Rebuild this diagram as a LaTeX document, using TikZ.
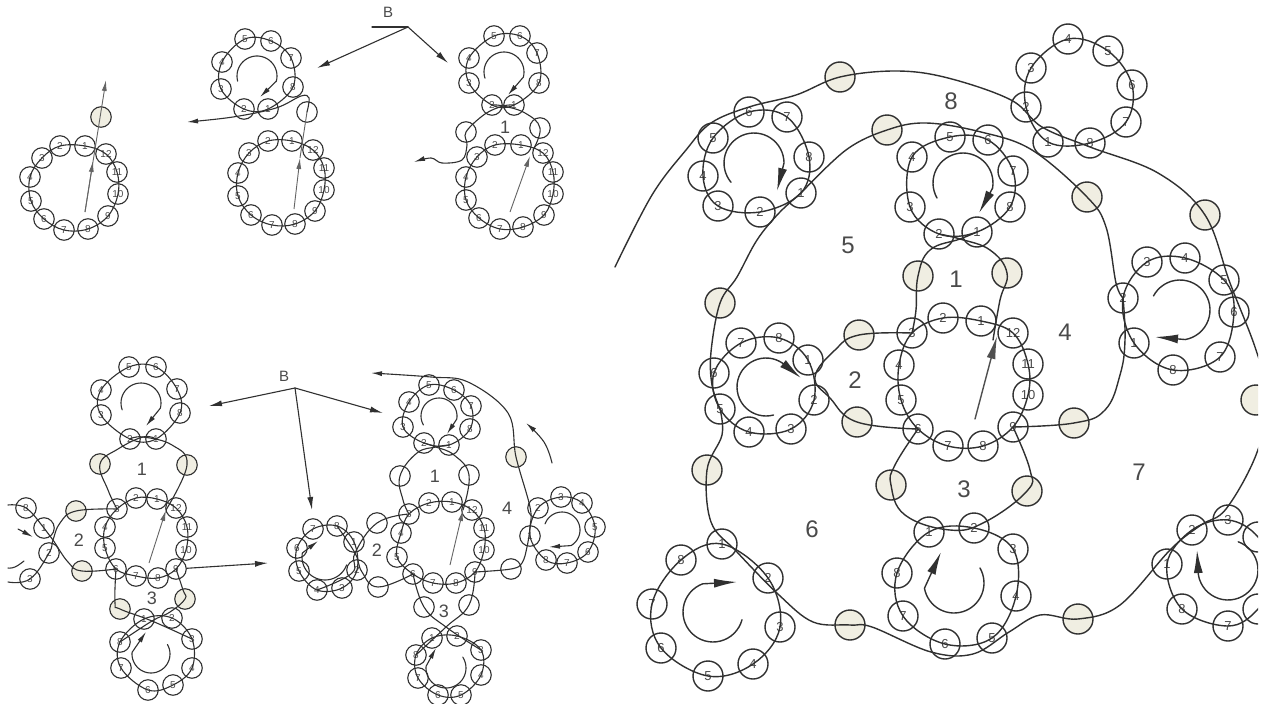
\documentclass[tikz,border=0pt]{standalone}
\usepackage{fontspec}
\setmainfont{Liberation Sans}
\usetikzlibrary{arrows.meta}
\definecolor{ink}{HTML}{303030}
\definecolor{txt}{HTML}{4A4A4A}
\definecolor{cream}{HTML}{F0EEE2}
\tikzset{
 sb/.style={circle,draw=ink,line width=1.1pt,minimum size=20.5pt,inner sep=0pt,text=txt,font=\fontsize{10}{10}\selectfont},
 sf/.style={sb,fill=cream},
 sw/.style={sb},
 bb/.style={circle,draw=ink,line width=1.4pt,minimum size=30pt,inner sep=0pt,text=txt,font=\fontsize{13}{13}\selectfont},
 bf/.style={bb,fill=cream},
 sthr/.style={draw=ink,line width=1.1pt,line cap=round},
 bthr/.style={draw=ink,line width=1.4pt,line cap=round},
 sgray/.style={draw=ink!75,line width=.9pt},
 sah/.style={-{Latex[length=11pt,width=5pt]}},
 bah/.style={-{Latex[length=23pt,width=9pt]}},
 mah/.style={-{Latex[length=13pt,width=6pt]}},
 lbl/.style={text=txt,font=\fontsize{18}{18}\selectfont,inner sep=0pt},
 blbl/.style={text=txt,font=\fontsize{24}{24}\selectfont,inner sep=0pt},
 blet/.style={text=txt,font=\fontsize{15}{15}\selectfont,inner sep=0pt},
}
\newcommand\beads[3]{\foreach \n/\x/\y in {#3} {\node[#1] (#2\n) at (\x,\y) {\n};}}
\newcommand\ringE[1]{\draw[#1] plot[smooth cycle,tension=.62] coordinates}
% style, cx, cy, r, from angle, to angle, tip (angles grow clockwise on the page)
\newcommand\spir[7]{\draw[#1] plot[domain=#5:#6,samples=32,smooth,variable=\t] ({#2+#4*cos(\t)},{#3+#4*sin(\t)}) -- (#7);}
\begin{document}
\begin{tikzpicture}[x=1pt,y=-1pt]
\useasboundingbox (0,0) rectangle (1272,704);
\fill[white] (0,0) rectangle (1272,704);

% ---------- Figure A
\beads{sb}{a}{1/85/146,2/60/146,3/42/158,4/30/177,5/31/201,6/44/219,7/64/230,8/88/229,9/108/216,10/118/194,11/117/172,12/106/154}
\node[sf] (a0) at (101,117) {};
\coordinate (a-s) at (85,212); \coordinate (a-e) at (106,80); \coordinate (a-m) at (93,161);
\ringE{sthr}{(a1)(a2)(a3)(a4)(a5)(a6)(a7)(a8)(a9)(a10)(a11)(a12)};
\draw[sgray,sah] (a-s) -- (a-e);
\draw[sgray,sah] (a-s) -- (a-m);

% ---------- Figure B
\beads{sb}{b}{1/292/141,2/268/141,3/249/153,4/238/173,5/238/196,6/251/215,7/272/225,8/295/224,9/315/211,10/324/190,11/324/168,12/313/150}
\beads{sb}{t}{5/245/39,6/271/41,7/291/58,8/293/87,3/221/89,4/222/62,2/244/109,1/268/109}
\node[sb] (b0) at (307,112) {};
\coordinate (b-s) at (294,209); \coordinate (b-m) at (300,158); \coordinate (b-e) at (187,122);
\ringE{sthr}{(b1)(b2)(b3)(b4)(b5)(b6)(b7)(b8)(b9)(b10)(b11)(b12)};
\ringE{sthr}{(t1)(t2)(t3)(t4)(t5)(t6)(t7)(t8)};
\draw[sgray,sah] (b-s) -- (b-m);
\draw[sgray] (b-m) -- (b0.center);
\draw[sthr,sah] plot[smooth,tension=.6] coordinates {(b0.center)(309,98)(301,96)(276,108)(233,117)(b-e)};
\spir{sthr,sah}{257}{76}{20}{165}{375}{260,97}
% B label top
\node[blet] (bl1) at (388,12) {B};
\coordinate (bj) at (408,27); \coordinate (bj-l) at (372,27);
\coordinate (bj-a) at (317,68); \coordinate (bj-b) at (448,63);
\draw[sthr] (bj-l) -- (bj);
\draw[sthr,mah] (bj) -- (bj-a);
\draw[sthr,mah] (bj) -- (bj-b);

% ---------- Figure C
\beads{sb}{c}{1/521/145,2/495/145,3/477/157,4/466/177,5/466/200,6/479/218,7/500/229,8/523/227,9/544/215,10/553/194,11/553/172,12/543/153}
\beads{sb}{u}{5/494/36,6/520/36,7/537/53,8/539/83,3/469/83,4/469/58,2/492/105,1/514/105}
\node[sb] (cl) at (466,132) {};
\node[sb] (cr) at (540,128) {};
\node[lbl] (cn) at (505,127) {1};
\coordinate (c-s) at (510,212); \coordinate (c-m) at (530,156); \coordinate (c-e) at (414,162);
\ringE{sthr}{(c1)(c2)(c3)(c4)(c5)(c6)(c7)(c8)(c9)(c10)(c11)(c12)};
\ringE{sthr}{(u1)(u2)(u3)(u4)(u5)(u6)(u7)(u8)};
\draw[sthr,sah] plot[smooth,tension=.6] coordinates {(u1)(503,106)(485,114)(cl.center)(467,145)(462,160)(442,163)(431,158)(c-e)};
\draw[sthr] plot[smooth,tension=.7] coordinates {(u2)(503,106)(525,113)(cr.center)(533,150)};
\draw[sgray,sah] (c-s) -- (c-m);
\spir{sthr,sah}{504}{72}{20}{162}{375}{508,95}

% ---------- Figure D
\beads{sb}{d}{1/157/499,2/136/498,3/117/509,4/105/527,5/105/548,6/116/569,7/136/576,8/158/578,9/176/569,10/186/550,11/187/527,12/176/508}
\beads{sb}{v}{5/129/367,6/156/367,7/177/389,8/180/413,3/101/415,4/101/390,2/130/439,1/156/439}
\beads{sb}{w}{1/144/619,2/172/618,3/192/639,4/192/668,5/173/685,6/148/690,7/121/668,8/120/642}
\beads{sb}{x}{8/26/508,1/44/528,2/49/553,3/30/579}
\node[sf] (dp1) at (100,464) {};
\node[sf] (dp2) at (187,465) {};
\node[sf] (dq1) at (76,511) {};
\node[sf] (dq2) at (82,571) {};
\node[sf] (dr1) at (120,609) {};
\node[sf] (dr2) at (185,599) {};
\node[lbl] (dn1) at (142,469) {1};
\node[lbl] (dn2) at (79,540) {2};
\node[lbl] (dn3) at (152,598) {3};
\coordinate (dx1) at (143,437); \coordinate (dx2) at (53,540); \coordinate (dx3) at (152,621);
\coordinate (ded1) at (8,505); \coordinate (ded2) at (8,582);
\coordinate (d-s) at (149,563); \coordinate (d-m) at (166,510); \coordinate (d-o) at (268,563);
\ringE{sthr}{(d1)(d2)(d3)(d4)(d5)(d6)(d7)(d8)(d9)(d10)(d11)(d12)};
\ringE{sthr}{(v1)(v2)(v3)(v4)(v5)(v6)(v7)(v8)};
\ringE{sthr}{(w1)(w2)(w3)(w4)(w5)(w6)(w7)(w8)};
\draw[sthr] plot[smooth,tension=.7] coordinates {(v1)(dx1)(118,449)(dp1.center)(108,490)(d3)};
\draw[sthr] plot[smooth,tension=.7] coordinates {(v2)(dx1)(172,445)(dp2.center)(d-m)};
\draw[sthr] plot[smooth,tension=.7] coordinates {(d3)(dq1.center)(60,523)(dx2)(x2)(x3)(ded2)};
\draw[sthr] plot[smooth,tension=.7] coordinates {(d6)(dq2.center)(68,562)(dx2)(x1)(x8)(ded1)};
\draw[sthr] plot[smooth,tension=.7] coordinates {(d6)(115,603)(dr1.center)(dx3)(w3)};
\draw[sthr] plot[smooth,tension=.7] coordinates {(d9)(183,590)(dr2.center)(170,612)(dx3)(w8)};
\draw[sgray,sah] (d-s) -- (d-m);
\draw[sthr,mah] (d9) -- (d-o);
\spir{sthr,sah}{141}{403}{20}{160}{375}{146,426}
\spir{sthr,sah}{151}{654}{19}{-30}{185}{146,632}
\draw[sthr,sah] (18,529) -- (33,537);
\draw[sthr] plot[smooth,tension=.8] coordinates {(8,568)(15,567)(24,561)};
% B label lower
\node[blet] (bl2) at (284,376) {B};
\coordinate (dj) at (295,388);
\coordinate (dj-a) at (209,406); \coordinate (dj-b) at (312,510); \coordinate (dj-c) at (383,413);
\draw[sthr,mah] (dj) -- (dj-a);
\draw[sthr,mah] (dj) -- (dj-b);
\draw[sthr,mah] (dj) -- (dj-c);

% ---------- Figure E
\beads{sb}{e}{1/452/502,2/429/503,3/409/514,4/401/533,5/397/557,6/413/574,7/433/583,8/456/583,9/475/572,10/484/550,11/484/528,12/472/510}
\beads{sb}{f}{5/429/385,6/454/390,7/471/406,8/470/429,3/403/427,4/409/402,2/424/443,1/449/445}
\beads{sb}{g}{1/432/638,2/457/636,3/481/650,4/481/675,5/461/695,6/438/695,7/418/678,8/416/655}
\beads{sb}{h}{1/354/542,2/357/570,3/342/588,4/317/590,5/299/571,6/297/548,7/313/529,8/337/526}
\beads{sb}{k}{1/530/536,2/538/508,3/561/497,4/582/503,5/595/527,6/588/552,7/567/563,8/546/560}
\node[sw] (ep1) at (400,476) {};
\node[sw] (ep2) at (469,475) {};
\node[sw] (eq1) at (377,523) {};
\node[sw] (eq2) at (378,587) {};
\node[sw] (er1) at (424,607) {};
\node[sw] (er2) at (469,605) {};
\node[sw] (es1) at (511,569) {};
\node[sf] (es2) at (516,457) {};
\node[lbl] (en1) at (435,476) {1};
\node[lbl] (en2) at (377,550) {2};
\node[lbl] (en3) at (444,611) {3};
\node[lbl] (en4) at (507,508) {4};
\coordinate (ex1) at (436,447); \coordinate (ex2) at (355,553); \coordinate (ex3) at (446,627);
\coordinate (e-s) at (450,565); \coordinate (e-m) at (463,510); \coordinate (e-o) at (371,373);
\coordinate (e-c1) at (552,463); \coordinate (e-c2) at (526,423);
\ringE{sthr}{(e1)(e2)(e3)(e4)(e5)(e6)(e7)(e8)(e9)(e10)(e11)(e12)};
\ringE{sthr}{(f1)(f2)(f3)(f4)(f5)(f6)(f7)(f8)};
\ringE{sthr}{(g1)(g2)(g3)(g4)(g5)(g6)(g7)(g8)};
\ringE{sthr}{(h1)(h2)(h3)(h4)(h5)(h6)(h7)(h8)};
\ringE{sthr}{(k1)(k2)(k3)(k4)(k5)(k6)(k7)(k8)};
\draw[sthr] plot[smooth,tension=.7] coordinates {(f1)(ex1)(417,453)(ep1.center)(403,500)(e3)};
\draw[sthr] plot[smooth,tension=.7] coordinates {(f2)(ex1)(454,455)(ep2.center)(e-m)};
\draw[sthr] plot[smooth,tension=.7] coordinates {(e3)(eq1.center)(ex2)(352,573)(h4)};
\draw[sthr] plot[smooth,tension=.7] coordinates {(e6)(eq2.center)(362,572)(ex2)(h8)};
\draw[sthr] plot[smooth,tension=.7] coordinates {(e6)(er1.center)(ex3)(g3)};
\draw[sthr] plot[smooth,tension=.7] coordinates {(e9)(er2.center)(ex3)(g8)};
\draw[sthr,sah] plot[smooth,tension=.6] coordinates {(e9)(es1.center)(522,563)(527,547)(530,527)(530,507)(es2.center)(508,413)(468,382)(431,377)(e-o)};
\draw[sgray,sah] (e-s) -- (e-m);
\spir{sthr,sah}{439}{416}{18}{150}{370}{447,434}
\spir{sthr,sah}{446}{668}{20}{-33}{185}{436,648}
\spir{sthr,sah}{562}{530}{18}{200}{420}{549,547}
\spir{sthr,sah}{325}{557}{23}{20}{190}{318,541}
\draw[sthr,sah] plot[smooth,tension=.7] coordinates {(e-c1)(544,442)(e-c2)};

% ---------- Figure F (large, clipped at the right margin)
\begin{scope}
\clip (610,0) rectangle (1258,704);
\beads{bb}{m}{1/981/321,2/943/318,3/912/333,4/899/365,5/901/400,6/918/429,7/948/446,8/983/446,9/1013/427,10/1028/395,11/1028/364,12/1013/333}
\beads{bb}{n}{5/950/137,6/988/140,7/1013/171,8/1010/207,3/910/207,4/912/157,2/939/234,1/977/232}
\beads{bb}{o}{1/929/532,2/974/528,3/1013/549,4/1016/596,5/992/638,6/945/644,7/903/616,8/897/573}
\beads{bb}{p}{1/808/360,2/814/400,3/791/429,4/749/432,5/720/409,6/714/373,7/741/343,8/779/338}
\beads{bb}{q}{1/1134/343,2/1123/298,3/1147/262,4/1185/258,5/1224/280,6/1234/312,7/1220/357,8/1173/370}
\beads{bb}{r}{1/801/193,2/760/212,3/718/206,4/703/176,5/713/138,6/749/112,7/787/117,8/809/157}
\beads{bb}{s}{1/1048/142,2/1026/107,3/1031/68,4/1068/39,5/1108/51,6/1132/85,7/1126/122,8/1090/143}
\beads{bb}{y}{1/722/544,2/768/578,3/780/627,4/753/664,5/708/676,6/661/648,7/652/604,8/681/560}
\beads{bb}{z}{1/1167/564,2/1192/530,3/1228/520,7/1228/626,8/1182/609}
\node[bb] (z4) at (1258,537) {};
\node[bb] (z6) at (1258,609) {};
\coordinate (z5) at (1275,575);
\foreach \nm/\x/\y in {F1/918/276,F2/1007/273,F3/859/335,F4/857/422,F5/891/485,F6/1027/491,F7/1074/423,F8/840/77,F9/887/130,F10/1087/197,F11/1205/215,F12/720/303,F13/707/470,F14/850/625,F15/1078/619,F16/1256/400}
 {\node[bf] (\nm) at (\x,\y) {};}
\node[blbl] (fn1) at (956,279) {1};
\node[blbl] (fn2) at (855,380) {2};
\node[blbl] (fn3) at (964,489) {3};
\node[blbl] (fn4) at (1065,332) {4};
\node[blbl] (fn5) at (848,245) {5};
\node[blbl] (fn6) at (812,529) {6};
\node[blbl] (fn7) at (1139,472) {7};
\node[blbl] (fn8) at (951,101) {8};
\coordinate (fs) at (615,267);
\coordinate (fx1) at (960,239); \coordinate (fx2) at (815,377); \coordinate (fx3) at (950,530);
\ringE{bthr}{(m1)(m2)(m3)(m4)(m5)(m6)(m7)(m8)(m9)(m10)(m11)(m12)};
\ringE{bthr}{(n1)(n2)(n3)(n4)(n5)(n6)(n7)(n8)};
\ringE{bthr}{(o1)(o2)(o3)(o4)(o5)(o6)(o7)(o8)};
\ringE{bthr}{(p1)(p2)(p3)(p4)(p5)(p6)(p7)(p8)};
\ringE{bthr}{(q1)(q2)(q3)(q4)(q5)(q6)(q7)(q8)};
\ringE{bthr}{(r1)(r2)(r3)(r4)(r5)(r6)(r7)(r8)};
\ringE{bthr}{(s1)(s2)(s3)(s4)(s5)(s6)(s7)(s8)};
\ringE{bthr}{(y1)(y2)(y3)(y4)(y5)(y6)(y7)(y8)};
\ringE{bthr}{(z1)(z2)(z3)(z4)(z5)(z6)(z7)(z8)};
% inner threads
\draw[bthr] plot[smooth,tension=.7] coordinates {(n1)(fx1)(930,250)(F1.center)(916,310)(m3)};
\draw[bthr] plot[smooth,tension=.7] coordinates {(n2)(fx1)(990,250)(F2.center)(1000,300)(993,340)};
\draw[bthr] plot[smooth,tension=.7] coordinates {(m3)(F3.center)(835,350)(fx2)(830,398)(F4.center)(m6)};
\draw[bthr] plot[smooth,tension=.7] coordinates {(m6)(895,465)(F5.center)(905,515)(fx3)(985,522)(F6.center)(1030,470)(m9)};
\draw[bthr] plot[smooth,tension=.7] coordinates {(m9)(F7.center)(1105,410)(1120,375)(1125,340)(q2)};
% spanning threads
\draw[bthr] plot[smooth,tension=.6] coordinates {(r1)(779,213)(757,240)(737,277)(F12.center)(711,352)(712,385)(p5)};
\draw[bthr] plot[smooth,tension=.6] coordinates {(r1)(846,150)(F9.center)(926,123)(981,132)(1032,150)(F10.center)(1106,227)(1116,283)(q2)};
\draw[bthr] plot[smooth,tension=.6] coordinates {(fs)(652,195)(686,150)(711,123)(749,107)(796,95)(F8.center)(897,71)(948,78)(1011,100)(1042,127)(1090,147)(1158,173)(F11.center)(1230,283)(1256,350)(1268,400)(1256,455)(1226,509)(1201,525)(1171,549)(1120,605)(F15.center)(1040,615)(1009,632)(973,654)(931,652)(872,627)(F14.center)(813,622)(779,595)(737,552)(711,522)(F13.center)(722,435)(p5)};
% inner arrows
\draw[bthr,draw=ink!85,bah] (975,419) -- (997,336);
\spir{bthr,bah}{963}{183}{30}{150}{370}{979,213}
\spir{bthr,bah}{754}{163}{30}{140}{360}{777,191}
\spir{bthr,bah}{766}{387}{29}{75}{305}{801,378}
\spir{bthr,bah}{954}{583}{30}{-30}{170}{941,552}
\spir{bthr,bah}{713}{612}{30}{15}{250}{737,582}
\spir{bthr,bah}{1180}{310}{30}{208}{440}{1155,337}
\spir{bthr,bah}{1228}{570}{30}{-70}{170}{1197,550}
\end{scope}
\end{tikzpicture}
\end{document}
